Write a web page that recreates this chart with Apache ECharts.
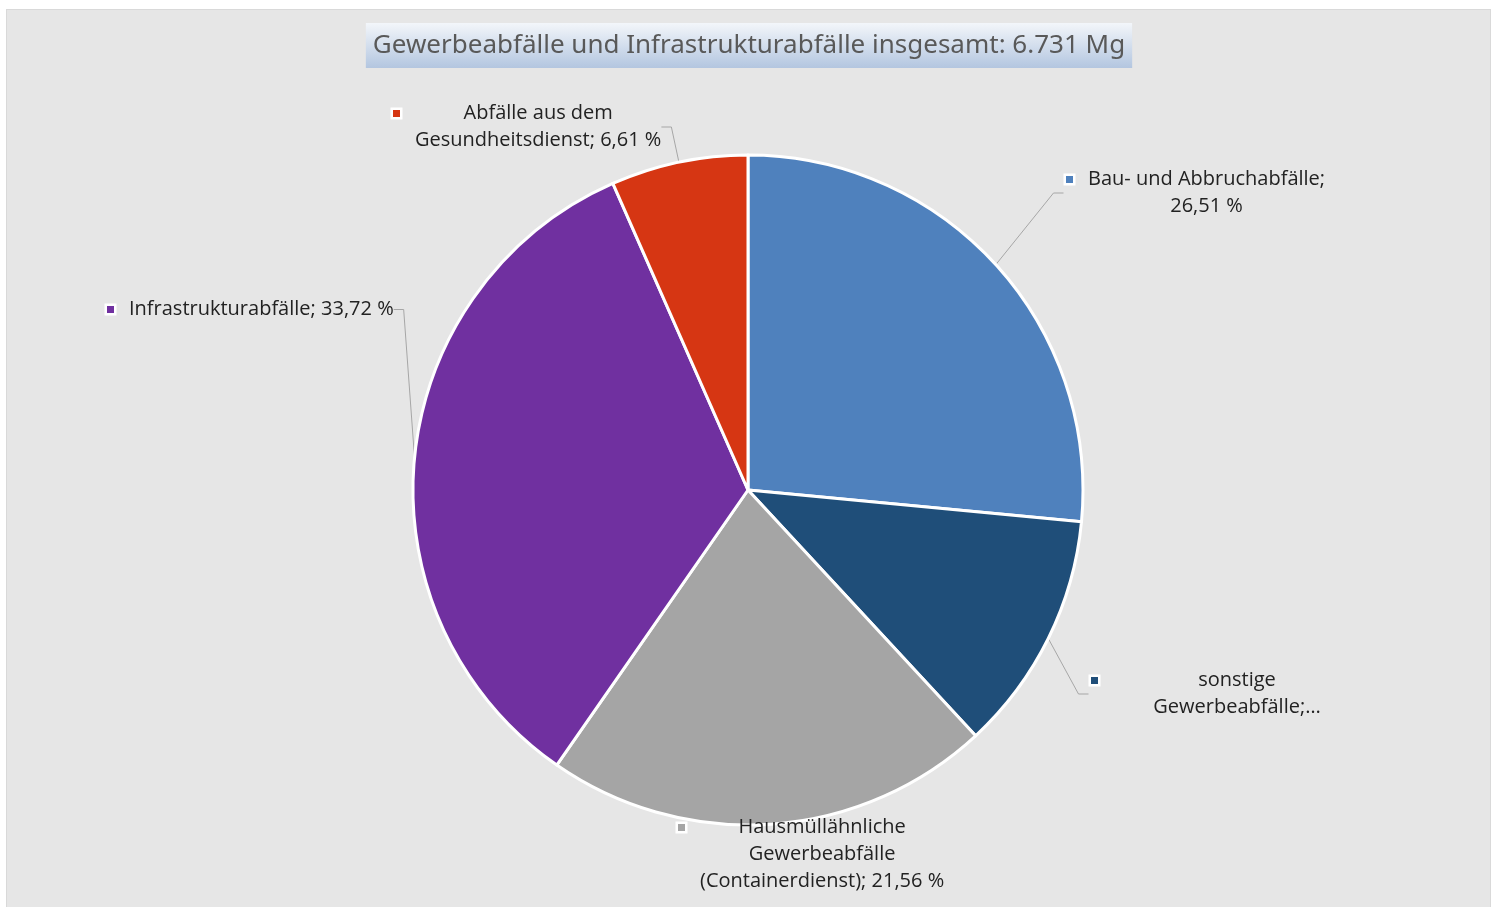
<!DOCTYPE html>
<html>
<head>
<meta charset="utf-8">
<script src="https://cdn.jsdelivr.net/npm/echarts@6/dist/echarts.min.js"></script>
<style>
html, body { margin: 0; padding: 0; background: #fff; overflow: hidden; }
#frame { position: absolute; left: 6px; top: 9px; width: 1485px; height: 920px; background: #E6E6E6; border: 1px solid #D9D9D9; box-sizing: border-box; }
#chart { position: absolute; left: 0; top: 0; width: 1498px; height: 907px; }
</style>
</head>
<body>
<div id="frame"></div>
<div id="chart"></div>
<script>
const titleText = 'Gewerbeabfälle und Infrastrukturabfälle insgesamt: 6.731 Mg'
const categories = [
  'Bau- und Abbruchabfälle',
  'sonstige Gewerbeabfälle',
  'Hausmüllähnliche Gewerbeabfälle (Containerdienst)',
  'Infrastrukturabfälle',
  'Abfälle aus dem Gesundheitsdienst'
]
const shares = [26.51, 11.60, 21.56, 33.72, 6.61]
const labelLines = [
  ['Bau- und Abbruchabfälle;', '26,51 %'],
  ['sonstige', 'Gewerbeabfälle;…'],
  ['Hausmüllähnliche', 'Gewerbeabfälle', '(Containerdienst); 21,56 %'],
  ['Infrastrukturabfälle; 33,72 %'],
  ['Abfälle aus dem', 'Gesundheitsdienst; 6,61 %']
]
const colors = ['#4F81BD', '#1F4E79', '#A5A5A5', '#7030A0', '#D63613']

// label box top-left corners; sonstige has a fixed (truncating) width
const labelBoxes = [
  { x: 1066, y: 166 },
  { x: 1091, y: 667, w: 270 },
  { x: 678, y: 814 },
  { x: 107, y: 296 },
  { x: 393, y: 100 }
]

const chart = echarts.init(document.getElementById('chart'))

const textBase = { fontFamily: 'Open Sans', fontSize: 20, lineHeight: 27, color: '#222' }
const rich = {
  t: Object.assign({}, textBase, { align: 'center' }),
  g: { width: 15, align: 'left' },
  k: { width: 22, align: 'left' }
}
colors.forEach((c, i) => {
  rich['m' + i] = { width: 7, height: 7, backgroundColor: c, borderColor: '#fff', borderWidth: 2.5, align: 'left' }
})

// marker column on the left, text centred in the rest (like the Excel data label)
const formatLabel = (p) => {
  const lines = labelLines[p.dataIndex]
  return lines.map((l, k) => k === 0
    ? '{m' + p.dataIndex + '|}{g|}{t|' + l + '}'
    : '{k|}{t|' + l + '}').join('\n')
}

const option = {
  animation: false,
  title: {
    text: titleText,
    left: 'center',
    top: 23,
    padding: [7, 7],
    backgroundColor: new echarts.graphic.LinearGradient(0, 0, 0, 1, [
      { offset: 0, color: '#F3F6FA' },
      { offset: 1, color: '#B3C6E0' }
    ]),
    textStyle: { fontFamily: 'Noto Sans', fontSize: 26, lineHeight: 31, fontWeight: 'normal', color: '#595959' }
  },
  series: [{
    type: 'pie',
    center: [748, 490],
    radius: 335,
    startAngle: 90,
    clockwise: true,
    avoidLabelOverlap: false,
    itemStyle: { borderColor: '#fff', borderWidth: 3 },
    label: {
      show: true,
      position: 'outside',
      formatter: formatLabel,
      rich: rich
    },
    labelLine: {
      show: true,
      length: 20,
      length2: 10,
      lineStyle: { color: '#A6A6A6', width: 1 }
    },
    labelLayout: (params) => {
      const b = labelBoxes[params.dataIndex]
      return { x: b.x, y: b.y, align: 'left', verticalAlign: 'top' }
    },
    emphasis: { disabled: true },
    data: categories.map((name, i) => ({
      name: name,
      value: shares[i],
      itemStyle: { color: colors[i] },
      label: labelBoxes[i].w ? { width: labelBoxes[i].w } : {},
      labelLine: i === 2 ? { show: false } : {}
    }))
  }]
}

chart.setOption(option)
</script>
</body>
</html>
